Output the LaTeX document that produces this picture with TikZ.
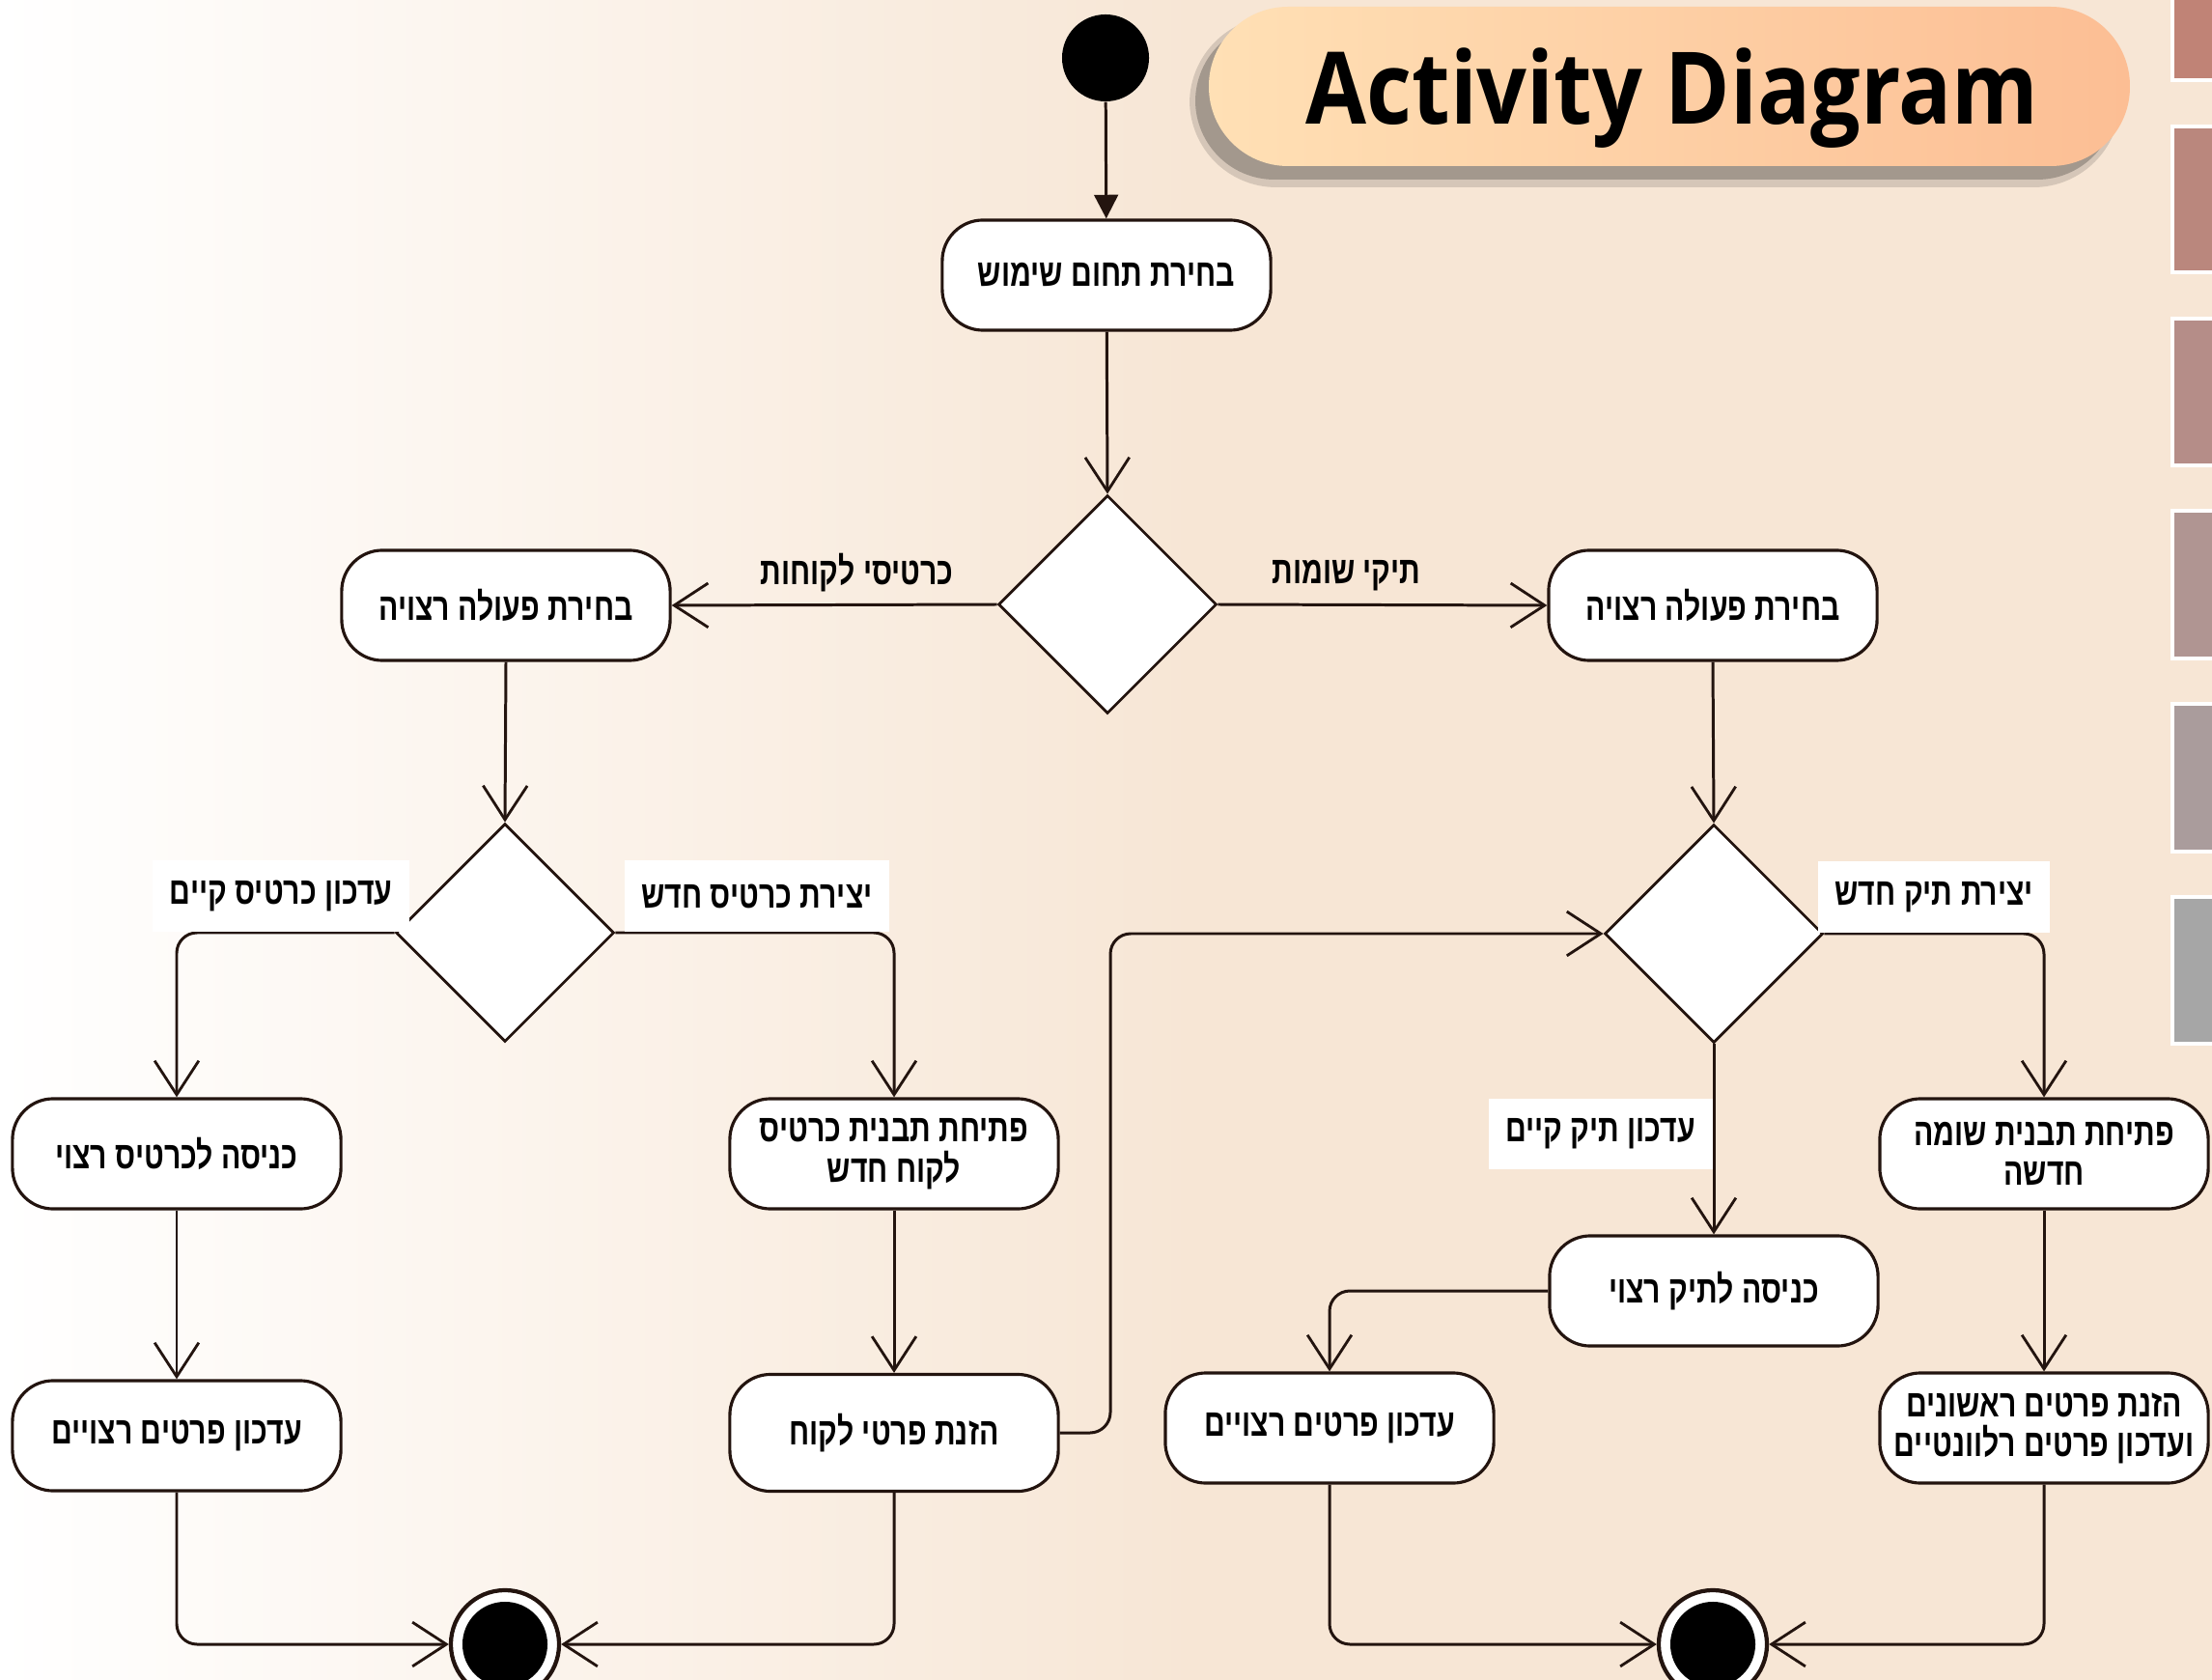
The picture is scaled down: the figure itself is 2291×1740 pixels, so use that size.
\documentclass[tikz,border=0pt]{standalone}
\usepackage{fontspec}
\usetikzlibrary{shapes.geometric,arrows.meta,calc}
\TeXXeTstate=1
\newfontfamily\hebfont[Script=Hebrew,FakeStretch=0.76]{Liberation Sans}
\newfontfamily\titlefont[FakeStretch=0.88]{Open Sans}
\newcommand\heb[1]{{\hebfont\beginR #1\endR}}
\definecolor{bgpeach}{HTML}{F7E6D5}
\definecolor{edgec}{RGB}{35,20,15}
\definecolor{shadowc}{HTML}{978D83}
\definecolor{pillL}{HTML}{FFE0B5}
\definecolor{pillR}{HTML}{FCBE94}
\definecolor{sq1}{HTML}{C08376}
\definecolor{sq2}{HTML}{BA877D}
\definecolor{sq3}{HTML}{B58D88}
\definecolor{sq4}{HTML}{B09592}
\definecolor{sq5}{HTML}{AA9C9C}
\definecolor{sq6}{HTML}{A6A6A6}
\pgfdeclarehorizontalshading{bgsh}{100bp}{color(0bp)=(white); color(25bp)=(white); color(52bp)=(bgpeach); color(100bp)=(bgpeach)}
\tikzset{
  hebtxt/.style={font=\hebfont\bfseries\fontsize{11.3}{11.7}\selectfont},
  act/.style={hebtxt, draw=edgec, line width=0.9pt, fill=white, rounded corners=12pt,
    minimum width=3.4cm, minimum height=1.14cm, align=center, inner sep=2pt},
  dec/.style={draw=edgec, line width=0.8pt, fill=white, diamond,
    minimum width=2.26cm, minimum height=2.26cm, inner sep=0pt},
  lab/.style={hebtxt, text=black, inner sep=2pt},
  wlab/.style={hebtxt, fill=white, sharp corners, minimum height=0.73cm, inner xsep=5pt},
  flow/.style={draw=edgec, line width=0.85pt, rounded corners=6pt,
    -{Straight Barb[length=10pt,width=13pt,line width=0.8pt]}},
  startnode/.style={circle, fill=black, minimum size=0.9cm, inner sep=0pt},
  endnode/.style={circle, draw=edgec, line width=1.2pt, fill=white, minimum size=1.12cm, inner sep=0pt,
    path picture={\fill[black] (path picture bounding box.center) circle (0.44cm);}},
}
\begin{document}
\begin{tikzpicture}[x=0.01cm,y=-0.01cm]
\clip (0,0) rectangle (2291,1740);
\shade[shading=bgsh] (0,0) rectangle (2291,1740);
% side squares
\foreach \c/\a/\b in {sq1/-20/83, sq2/131/282, sq3/330/482, sq4/529/682, sq5/729/882, sq6/929/1081}{
  \fill[\c] (2250,\a) rectangle (2320,\b);
  \draw[white, line width=1.2pt] (2250,\a) rectangle (2320,\b);
}
% title
\fill[shadowc, opacity=0.35, rounded corners=0.9cm] (1232,17) rectangle (2196,194);
\fill[shadowc, opacity=0.8, rounded corners=0.82cm] (1238,23) rectangle (2192,186);
\shade[left color=pillL, right color=pillR, rounded corners=0.82cm] (1252,7) rectangle (2206,172);
\node[font=\titlefont\bfseries\fontsize{29.5}{30}\selectfont, anchor=base, inner sep=0pt] (title) at (1732,129) {Activity Diagram};

% nodes
\node[startnode] (start) at (1145,60) {};
\node[act] (top) at (1146,285) {\heb{בחירת תחום שימוש}};
\node[dec] (d1) at (1147,626) {};
\node[act] (L1) at (524,627) {\heb{בחירת פעולה רצויה}};
\node[act] (R1) at (1774,627) {\heb{בחירת פעולה רצויה}};
\node[dec] (d2L) at (523,966) {};
\node[dec] (d2R) at (1775,967) {};
\node[act] (kn) at (183,1195) {\heb{כניסה לכרטיס רצוי}};
\node[act] (ptk) at (926,1195) {\heb{פתיחת תבנית כרטיס}\\\heb{לקוח חדש}};
\node[act] (pts) at (2117,1195) {\heb{פתיחת תבנית שומה}\\\heb{חדשה}};
\node[act] (knt) at (1775,1337) {\heb{כניסה לתיק רצוי}};
\node[act] (up1) at (183,1487) {\heb{עדכון פרטים רצויים}};
\node[act, minimum height=1.21cm] (hzn) at (926,1484) {\heb{הזנת פרטי לקוח}};
\node[act] (up2) at (1377,1479) {\heb{עדכון פרטים רצויים}};
\node[act] (hzr) at (2117,1479) {\heb{הזנת פרטים ראשונים}\\\heb{ועדכון פרטים רלוונטיים}};
\node[endnode] (end1) at (523,1703) {};
\node[endnode] (end2) at (1774,1703) {};
\coordinate (jx) at (1150,1484);

% connectors
\draw[draw=edgec, line width=0.85pt, -{Triangle[length=7pt,width=7pt]}] (start) -- (top);
\draw[flow] (top) -- (d1.north);
\draw[flow] (d1.west) -- node[lab, pos=0.43, yshift=0.33cm] {\heb{כרטיסי לקוחות}} (L1.east);
\draw[flow] (d1.east) -- node[lab, pos=0.39, yshift=0.30cm] {\heb{תיקי שומות}} (R1.west);
\draw[flow] (L1.south) -- (d2L.north);
\draw[flow] (R1.south) -- (d2R.north);
\draw[flow] (d2L.west) -| node[wlab, pos=0.26, anchor=south] {\heb{עדכון כרטיס קיים}} (kn.north);
\draw[flow] (d2L.east) -| node[wlab, pos=0.254, anchor=south] {\heb{יצירת כרטיס חדש}} (ptk.north);
\draw[flow] (d2R.east) -| node[wlab, pos=0.25, anchor=south] {\heb{יצירת תיק חדש}} (pts.north);
\draw[flow] (d2R.south) -- node[wlab, pos=0.47, anchor=east] {\heb{עדכון תיק קיים}} (knt.north);
\draw[flow] (kn.south) -- (up1.north);
\draw[flow] (ptk.south) -- (hzn.north);
\draw[flow] (pts.south) -- (hzr.north);
\draw[flow] (hzn.east) -- (jx) |- (d2R.west);
\draw[flow] (knt.west) -| (up2.north);
\draw[flow] (up1.south) |- (end1.west);
\draw[flow] (hzn.south) |- (end1.east);
\draw[flow] (up2.south) |- (end2.west);
\draw[flow] (hzr.south) |- (end2.east);
\end{tikzpicture}
\end{document}
